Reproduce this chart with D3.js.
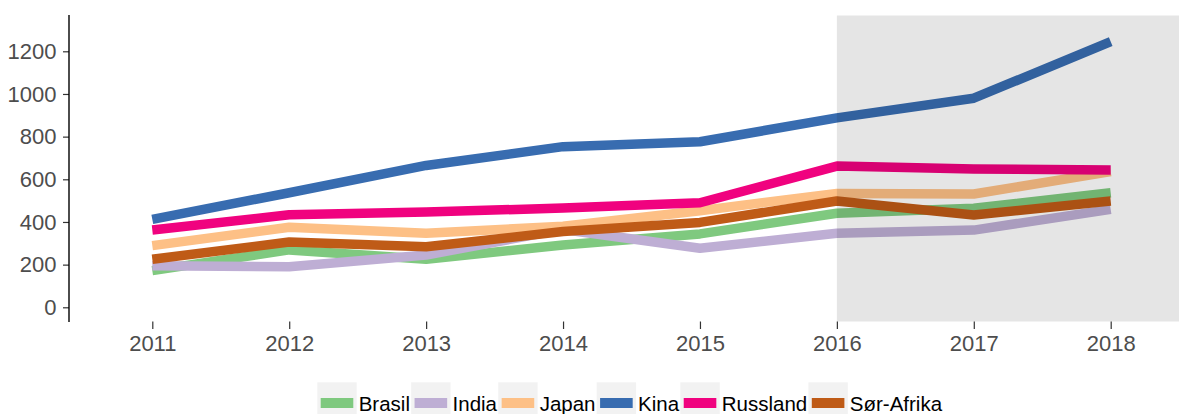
<!DOCTYPE html>
<html>
<head>
<meta charset="utf-8">
<script src="https://cdn.jsdelivr.net/npm/d3@7"></script>
<style>
  body { margin: 0; background: #fff; }
  svg { display: block; font-family: "Liberation Sans", Arial, sans-serif; }
</style>
</head>
<body>
<div id="chart"></div>
<script>
// values
const years = [2011, 2012, 2013, 2014, 2015, 2016, 2017, 2018]
const brasil    = [172, 269, 225, 292, 344, 441, 464, 537]
const india     = [195, 190, 245, 365, 277, 347, 362, 459]
const japan     = [289, 375, 347, 380, 453, 534, 531, 636]
const kina      = [412, 537, 665, 753, 776, 888, 980, 1245]
const russland  = [362, 434, 447, 465, 490, 662, 648, 644]
const sorAfrika = [225, 306, 284, 355, 398, 498, 433, 498]

const countries = ["Brasil", "India", "Japan", "Kina", "Russland", "Sør-Afrika"]
const seriesValues = [brasil, india, japan, kina, russland, sorAfrika]
const colors = ["#7fc97f", "#beaed4", "#fdc086", "#386cb0", "#f0027f", "#bf5b17"]
const yTicks = [0, 200, 400, 600, 800, 1000, 1200]
const shadeFrom = 2016

var width = 1179, height = 414
var panel = {left: 69, top: 15.5, bottom: 321.5, right: 1179}

var svg = d3.select("#chart").append("svg")
    .attr("width", width)
    .attr("height", height)

var x = d3.scaleLinear().domain([2011, 2018]).range([152.3, 1110.7])
var y = d3.scaleLinear().domain([0, 1200]).range([307.3, 51.3])

var color = d3.scaleOrdinal().domain(countries).range(colors)

var series = countries.map((name, i) => ({
    name: name,
    values: years.map((yr, j) => ({year: yr, value: seriesValues[i][j]}))
}))

var line = d3.line()
    .x(d => x(d.year))
    .y(d => y(d.value))

// lines
svg.append("g")
    .selectAll("path")
    .data(series)
    .enter().append("path")
    .attr("d", d => line(d.values))
    .attr("fill", "none")
    .attr("stroke", d => color(d.name))
    .attr("stroke-width", 9.5)
    .attr("stroke-linejoin", "round")
    .attr("stroke-linecap", "butt")

// shaded forecast area, drawn over the lines
svg.append("rect")
    .attr("x", x(shadeFrom))
    .attr("y", panel.top)
    .attr("width", panel.right - x(shadeFrom))
    .attr("height", panel.bottom - panel.top)
    .attr("fill", "#000")
    .attr("fill-opacity", 0.1)

// y axis
var yAxis = svg.append("g")
    .attr("transform", "translate(" + panel.left + ",0)")
    .call(d3.axisLeft(y).tickValues(yTicks).tickFormat(d3.format("d")).tickSize(6).tickPadding(6.5))
yAxis.select(".domain").remove()
yAxis.selectAll(".tick line").attr("stroke", "#333").attr("stroke-width", 1.2)
yAxis.selectAll(".tick text")
    .attr("fill", "#4d4d4d")
    .style("font-size", "22px")
    .style("font-family", "Liberation Sans, Arial, sans-serif")

svg.append("line")
    .attr("x1", panel.left).attr("x2", panel.left)
    .attr("y1", panel.top - 0.5).attr("y2", panel.bottom + 0.5)
    .attr("stroke", "#000")
    .attr("stroke-width", 1.4)

// x axis (ticks only)
var xAxis = svg.append("g")
    .attr("transform", "translate(0," + panel.bottom + ")")
    .call(d3.axisBottom(x).tickValues(years).tickFormat(d3.format("d")).tickSize(7.5).tickPadding(6.4))
xAxis.select(".domain").remove()
xAxis.selectAll(".tick line").attr("stroke", "#333").attr("stroke-width", 1.2)
xAxis.selectAll(".tick text")
    .attr("fill", "#4d4d4d")
    .style("font-size", "22px")
    .style("font-family", "Liberation Sans, Arial, sans-serif")

// legend at the bottom
var legend = svg.append("g").attr("class", "legend")
var lx = 317.3
countries.forEach(function(name) {
    var g = legend.append("g").attr("transform", "translate(" + lx + ",382.3)")
    g.append("rect")
        .attr("width", 39.4)
        .attr("height", 39.4)
        .attr("fill", "#f2f2f2")
    g.append("line")
        .attr("x1", 3.4).attr("x2", 36)
        .attr("y1", 20.7).attr("y2", 20.7)
        .attr("stroke", color(name))
        .attr("stroke-width", 10)
    var t = g.append("text")
        .attr("x", 41.4)
        .attr("y", 28.9)
        .attr("fill", "#000")
        .style("font-size", "20.5px")
        .text(name)
    lx += 41.4 + t.node().getComputedTextLength() + 1.2
})
</script>
</body>
</html>
